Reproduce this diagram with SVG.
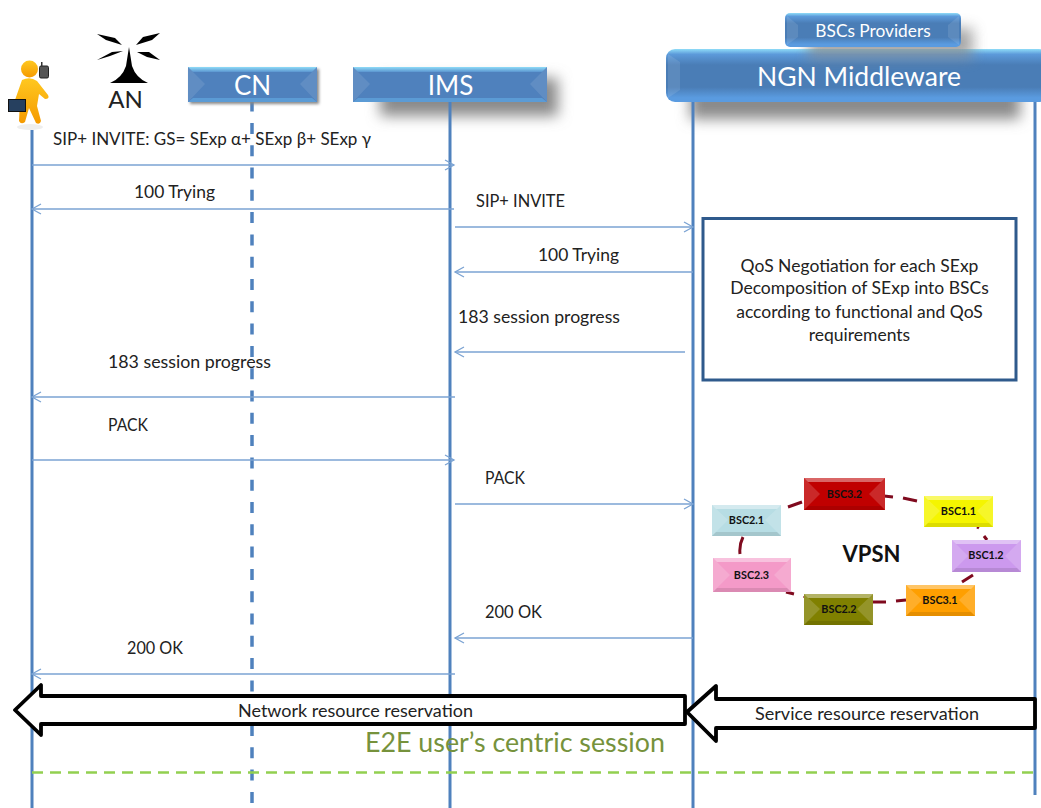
<svg xmlns="http://www.w3.org/2000/svg" width="1041" height="808" viewBox="0 0 1041 808">
<style>
text{font-family:Lato,"Liberation Sans",sans-serif;fill:#222;font-size:17.800px}
.m{text-anchor:middle}
.hd{fill:#fff;text-anchor:middle}
.life{stroke:#4f81bd;stroke-width:3;fill:none}
.msg{stroke:#7ba3d3;stroke-width:1.300;fill:none;marker-end:url(#open)}
.blk{fill:#fff;stroke:#000;stroke-width:3.800;stroke-linejoin:round}
.lnk{stroke:#7f0a1e;stroke-width:3;fill:none}
.bsc{font-weight:700;font-size:10.800px;text-anchor:middle;fill:#111}
.hi{fill:url(#top)}
.bot{fill:#5b9bd5}
.lo{fill:#fff;opacity:.1}
.gl{fill:#fff;opacity:.4}
.gt{fill:#fff;opacity:.16}
.sd{fill:#000;opacity:.1}
.sh{fill:#8a8a8a;filter:url(#blur)}
.b{fill:#4f81bd}
</style>
<defs>
<marker id="open" markerUnits="userSpaceOnUse" markerWidth="12" markerHeight="14" refX="10" refY="6" orient="auto"><path d="M1 1L10 6L1 11" fill="none" stroke="#7ba3d3" stroke-width="1.300"/></marker>
<filter id="blur" x="-30%" y="-80%" width="160%" height="260%"><feGaussianBlur stdDeviation="7"/></filter>
<filter id="soft" x="-10%" y="-20%" width="120%" height="150%"><feGaussianBlur stdDeviation="1.500"/></filter>
<linearGradient id="top" x1="0" y1="0" x2="0" y2="1"><stop offset="0" stop-color="#8fdcf8"/><stop offset="1" stop-color="#5b95d0"/></linearGradient>
<linearGradient id="rnd" x1="0" y1="0" x2="0" y2="1"><stop offset="0" stop-color="#8fdcf8"/><stop offset=".1" stop-color="#5c9ada"/><stop offset=".3" stop-color="#4a7db6"/><stop offset=".72" stop-color="#4a7db6"/><stop offset=".92" stop-color="#5a9be0"/><stop offset="1" stop-color="#5a9be0"/></linearGradient>
<linearGradient id="head" x1="0" y1="0" x2="0" y2="1"><stop offset="0" stop-color="#ffc820"/><stop offset="1" stop-color="#f59a00"/></linearGradient>
</defs>

<g id="connectors">
<rect class="sh" x="380" y="78" width="178" height="38"/>
<rect class="sh" x="690" y="85" width="330" height="34"/>
<path class="life" d="M32 130V808"/>
<path class="life" d="M252 100.600V808" stroke-dasharray="11 11.300" style="stroke-width:3.500"/>
<path class="life" d="M450 102V808"/>
<path class="life" d="M693 102V808"/>
<path class="life" d="M1035 102V795"/>
<path class="msg" d="M32 165H454"/>
<path class="msg" d="M454 209H32"/>
<path class="msg" d="M455 227H693"/>
<path class="msg" d="M693 272H455"/>
<path class="msg" d="M685 352H455"/>
<path class="msg" d="M455 397H32"/>
<path class="msg" d="M32 460H454"/>
<path class="msg" d="M455 504H693"/>
<path class="msg" d="M693 638H455"/>
<path class="msg" d="M455 674H32"/>
<path d="M32 772.500H1035" stroke="#92d050" stroke-width="2.500" stroke-dasharray="11 7" fill="none"/>
<path class="lnk" d="M788 507L802 502M884 496L893 497M903 498L917 501M977 527L979 528M984 536L987 540M973 575L962 582M873 602L886 602M896 601L906 600M786 592L794 594M804 596L805 597M743 537Q739 545 740 554"/>
</g>

<g id="user">
<ellipse cx="30" cy="127" rx="13" ry="3" fill="#eee"/>
<circle cx="29.500" cy="69" r="8.500" fill="url(#head)"/>
<path d="M22 80Q30 76 37 81L48 95Q50 99 45 99L39 94L37 106L41 121Q40 125 36 123L29 108L25 122Q21 125 19 121L20 100L15 100Z" fill="url(#head)"/>
<rect x="8.500" y="99.500" width="17" height="12" fill="#26405f" stroke="#111"/>
<rect x="39.500" y="66" width="9" height="12" rx="1.500" fill="#555" stroke="#222"/>
<rect x="41" y="62" width="1.500" height="4" fill="#333"/>
</g>

<g id="AN">
<path d="M129 47L132 66Q136 78 148 83H110Q122 78 126 66Z" fill="#000"/>
<path d="M97 34L115 38L122 45L106 40ZM160 33L143 37L136 45L152 40ZM97 60L112 52L123 51L110 56ZM137 52L149 52L160 60L147 57Z" fill="#000"/>
<text x="125.500" y="108" class="m" style="font-size:24px">AN</text>
</g>

<g id="CN">
<rect x="190" y="69" width="129" height="35" fill="#888" filter="url(#soft)"/>
<rect class="b" x="188" y="67" width="129" height="35"/>
<path class="hi" d="M188 67H317L312 72H193Z"/>
<path class="lo" d="M188 67L205 84L188 102Z"/>
<path class="lo" d="M317 67L300 84L317 102Z"/>
<path class="bot" d="M188 102H317L312 98H193Z"/>
<text class="hd" x="252.500" y="95" style="font-size:26px">CN</text>
</g>

<g id="IMS">
<rect class="b" x="353" y="67" width="194" height="35"/>
<path class="hi" d="M353 67H547L542 72H358Z"/>
<path class="lo" d="M353 67L370 84L353 102Z"/>
<path class="lo" d="M547 67L530 84L547 102Z"/>
<path class="bot" d="M353 102H547L542 98H358Z"/>
<text class="hd" x="450.500" y="95" style="font-size:26px">IMS</text>
</g>

<g id="NGN">
<rect x="666" y="49" width="382" height="53" rx="9" fill="url(#rnd)"/>
<path class="lo" d="M668 54L680 62V90L668 98Z"/>
<text class="hd" x="859" y="86" style="font-size:26.500px">NGN Middleware</text>
</g>

<g id="BSCs">
<rect class="sh" x="808" y="28" width="165" height="30" style="opacity:.75"/>
<rect x="785" y="13" width="176" height="34" rx="5" fill="url(#rnd)"/>
<path class="lo" d="M787 16L798 25V37L787 45Z"/>
<path class="lo" d="M959 16L948 25V37L959 45Z"/>
<text class="hd" x="873" y="37" style="font-size:17.300px">BSCs Providers</text>
</g>

<g id="box">
<rect x="703" y="218.500" width="313" height="161.500" fill="#fff" stroke="#2f5a8c" stroke-width="3"/>
<text class="m" x="859.500" y="272" style="font-size:17.500px">QoS Negotiation for each SExp</text>
<text class="m" x="859.500" y="294" style="font-size:17.500px">Decomposition of SExp into BSCs</text>
<text class="m" x="859.500" y="318" style="font-size:17.500px">according to functional and QoS</text>
<text class="m" x="859.500" y="341" style="font-size:17.500px">requirements</text>
</g>

<g id="BSC3.2">
<rect x="804" y="478" width="81" height="32" fill="#c00000"/>
<path class="gl" d="M804 478H885L881 482H808Z"/><path class="gt" d="M804 478L820 494L804 510ZM885 478L869 494L885 510Z"/><path class="sd" d="M804 510H885L881 506H808Z"/>
<text class="bsc" x="844.500" y="498">BSC3.2</text></g>
<g id="BSC1.1">
<rect x="924" y="496" width="69" height="31" fill="#f5f500"/>
<path class="gl" d="M924 496H993L989 500H928Z"/><path class="gt" d="M924 496L940 511L924 527ZM993 496L977 511L993 527Z"/><path class="sd" d="M924 527H993L989 523H928Z"/>
<text class="bsc" x="958.500" y="515">BSC1.1</text></g>
<g id="BSC2.1">
<rect x="712" y="505" width="69" height="31" fill="#b7dde4"/>
<path class="gl" d="M712 505H781L777 509H716Z"/><path class="gt" d="M712 505L728 520L712 536ZM781 505L765 520L781 536Z"/><path class="sd" d="M712 536H781L777 532H716Z"/>
<text class="bsc" x="746.500" y="524">BSC2.1</text></g>
<g id="BSC1.2">
<rect x="952" y="540" width="69" height="32" fill="#cc99ee"/>
<path class="gl" d="M952 540H1021L1017 544H956Z"/><path class="gt" d="M952 540L968 556L952 572ZM1021 540L1005 556L1021 572Z"/><path class="sd" d="M952 572H1021L1017 568H956Z"/>
<text class="bsc" x="986" y="559">BSC1.2</text></g>
<g id="BSC2.3">
<rect x="713" y="558" width="78" height="34" fill="#f49ac8"/>
<path class="gl" d="M713 558H791L787 562H717Z"/><path class="gt" d="M713 558L730 575L713 592ZM791 558L774 575L791 592Z"/><path class="sd" d="M713 592H791L787 588H717Z"/>
<text class="bsc" x="751.500" y="579">BSC2.3</text></g>
<g id="BSC3.1">
<rect x="906" y="585" width="69" height="31" fill="#ff9f00"/>
<path class="gl" d="M906 585H975L971 589H910Z"/><path class="gt" d="M906 585L922 600L906 616ZM975 585L959 600L975 616Z"/><path class="sd" d="M906 616H975L971 612H910Z"/>
<text class="bsc" x="940" y="604">BSC3.1</text></g>
<g id="BSC2.2">
<rect x="804" y="594" width="69" height="31" fill="#808000"/>
<path class="gl" d="M804 594H873L869 598H808Z"/><path class="gt" d="M804 594L820 609L804 625ZM873 594L857 609L873 625Z"/><path class="sd" d="M804 625H873L869 621H808Z"/>
<text class="bsc" x="839" y="613">BSC2.2</text></g>
<text x="871.500" y="562" class="m" style="font-size:22px;font-weight:700;fill:#111">VPSN</text>

<g id="labels">
<text x="53" y="145" textLength="318" lengthAdjust="spacingAndGlyphs">SIP+ INVITE: GS= SExp α+ SExp β+ SExp γ</text>
<text x="134" y="198" textLength="81" lengthAdjust="spacingAndGlyphs">100 Trying</text>
<text x="476" y="207" textLength="89" lengthAdjust="spacingAndGlyphs">SIP+ INVITE</text>
<text x="538" y="261" textLength="81" lengthAdjust="spacingAndGlyphs">100 Trying</text>
<text x="458" y="323" textLength="162" lengthAdjust="spacingAndGlyphs">183 session progress</text>
<text x="108" y="368" textLength="163" lengthAdjust="spacingAndGlyphs">183 session progress</text>
<text x="108" y="431" textLength="40" lengthAdjust="spacingAndGlyphs">PACK</text>
<text x="485" y="484" textLength="40" lengthAdjust="spacingAndGlyphs">PACK</text>
<text x="485" y="618" textLength="57" lengthAdjust="spacingAndGlyphs">200 OK</text>
<text x="127" y="654" textLength="56" lengthAdjust="spacingAndGlyphs">200 OK</text>
</g>

<g id="network-reservation">
<path class="blk" d="M15 710L41 685V696H685V724H41V735Z"/>
<text x="238" y="717" textLength="235" lengthAdjust="spacingAndGlyphs">Network resource reservation</text>
</g>
<g id="service-reservation">
<path class="blk" d="M687 712L716 686V699H1035V728H716V741Z"/>
<text x="755" y="720" textLength="224" lengthAdjust="spacingAndGlyphs">Service resource reservation</text>
</g>
<text id="e2e" x="365" y="752" style="font-size:26.800px;fill:#76923c">E2E user’s centric session</text>
</svg>
